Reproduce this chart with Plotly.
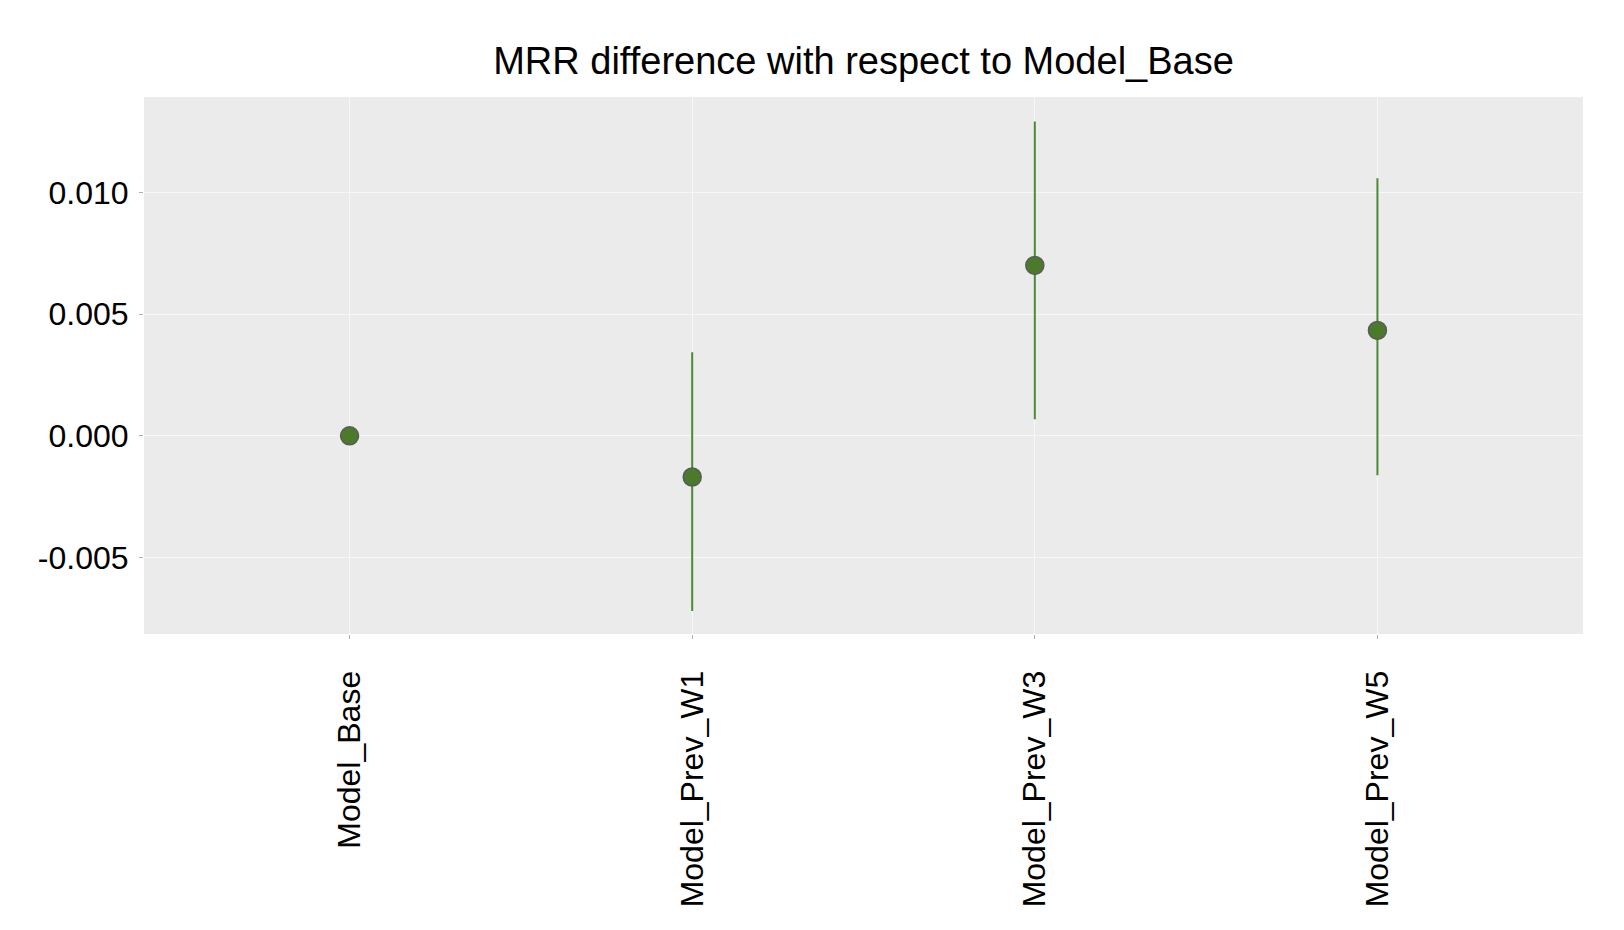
import plotly.graph_objects as go

# MRR difference vs Model_Base, with confidence interval bounds
models = ['Model_Base', 'Model_Prev_W1', 'Model_Prev_W3', 'Model_Prev_W5']
mrr_diff = [0.0, -0.00169, 0.00700, 0.00433]
ci_low = [0.0, -0.00720, 0.00068, -0.00162]
ci_high = [0.0, 0.00343, 0.01291, 0.01058]

err_plus = [h - m for h, m in zip(ci_high, mrr_diff)]
err_minus = [m - l for m, l in zip(mrr_diff, ci_low)]

fig = go.Figure()
fig.add_trace(go.Scatter(
    x=models, y=mrr_diff, mode='markers',
    marker=dict(size=18, color='#4a7a2a', line=dict(width=1.5, color='#5a5a5a')),
    error_y=dict(type='data', symmetric=False, array=err_plus, arrayminus=err_minus,
                 width=0, thickness=2, color='#4d8a36'),
    showlegend=False,
))

fig.update_layout(
    width=1624, height=930,
    margin=dict(l=136, r=49, t=89, b=304),
    paper_bgcolor='white', plot_bgcolor='#ebebeb',
    font=dict(family='Liberation Sans, Arial, sans-serif', size=32, color='black'),
    title=dict(text='MRR difference with respect to Model_Base', x=0.5, xref='paper',
               xanchor='center', y=1 - 53 / 930, yref='container', yanchor='middle',
               font=dict(size=38)),
)
fig.update_xaxes(
    range=[-0.6, 3.6], tickangle=-90, showgrid=True, gridcolor='#f7f7f7', gridwidth=1,
    ticks='outside', ticklen=4, tickcolor='#b0b0b0', ticklabelstandoff=19,
    showline=False, zeroline=False,
)
fig.update_yaxes(
    range=[-0.00814, 0.01392], tickvals=[-0.005, 0.0, 0.005, 0.010],
    ticktext=['-0.005', '0.000', '0.005', '0.010'],
    showgrid=True, gridcolor='#f7f7f7', gridwidth=1,
    ticks='outside', ticklen=4, tickcolor='#b0b0b0', ticklabelstandoff=4,
    showline=False, zeroline=False,
)

fig.write_html('out.html')
